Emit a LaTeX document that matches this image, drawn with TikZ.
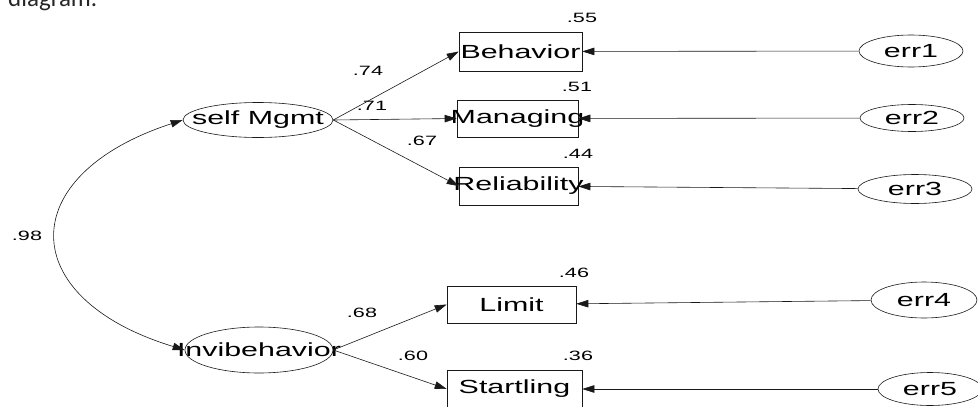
\documentclass[tikz,border=0pt]{standalone}
\usepackage{fontspec}
\setmainfont{Liberation Sans}[FakeStretch=1.6]
\newfontfamily\captfont{Carlito}
\usetikzlibrary{arrows.meta,shapes.geometric}
\definecolor{pLine}{gray}{0.1}
\definecolor{pCapt}{gray}{0.15}
\newcommand{\wide}[1]{\makebox[0pt][c]{#1}}
\tikzset{
    lat/.style={ellipse, draw=pLine, line width=0.6pt, inner sep=0pt, minimum width=150pt, minimum height=35pt, font=\fontsize{19}{21}\selectfont},
    obs/.style={rectangle, draw=pLine, line width=0.6pt, inner sep=0pt, minimum width=122pt, minimum height=38pt, font=\fontsize{19}{21}\selectfont},
    errv/.style={ellipse, draw=pLine, line width=0.6pt, inner sep=0pt, minimum width=104pt, minimum height=31pt, font=\fontsize{19}{21}\selectfont},
    coef/.style={inner sep=0pt, font=\fontsize{13.5}{15}\selectfont},
    regr/.style={draw=pLine, line width=0.6pt, -{Triangle[length=12pt,width=7.5pt]}},
    cov/.style={draw=pLine, line width=0.6pt, {Triangle[length=12pt,width=7.5pt]}-{Triangle[length=12pt,width=7.5pt]}}
}

\begin{document}
\begin{tikzpicture}[x=1pt,y=-1pt]
\useasboundingbox (0,0) rectangle (978,407);
\clip (0,0) rectangle (978,407);
\node[anchor=base west, inner sep=0pt, text=pCapt, font=\captfont\fontsize{25}{28}\selectfont] (capt) at (8,6) {diagram.};
% latent variables
\node[lat] (selfMgmt) at (258,120) {\wide{self Mgmt}};
\node[lat, minimum width=148pt, minimum height=46pt] (Invib) at (259,350) {\wide{Invibehavior}};
% observed variables
\node[obs, minimum width=123pt, minimum height=39pt] (Behavior) at (520.5,51.5) {\wide{Behavior}};
\node[obs, minimum width=121pt, minimum height=37pt] (Managing) at (517.5,118.5) {\wide{Managing}};
\node[obs, minimum width=119pt] (Reliability) at (518.5,186) {\wide{Reliability}};
\node[obs, minimum width=129pt, minimum height=37pt] (Limit) at (511.5,304.5) {\wide{Limit}};
\node[obs, minimum width=135pt] (Startling) at (514.5,389) {\wide{Startling}};
% error terms
\node[errv, minimum height=32pt] (err1) at (911,51) {\wide{err1}};
\node[errv, minimum height=27pt] (err2) at (912,118) {\wide{err2}};
\node[errv, minimum width=114pt, minimum height=29pt] (err3) at (915,189) {\wide{err3}};
\node[errv, minimum width=106pt, minimum height=36pt] (err4) at (924,300) {\wide{err4}};
\node[errv, minimum width=104pt, minimum height=33pt] (err5) at (930,389) {\wide{err5}};
% squared multiple correlations
\node[coef] (r1) at (582,18) {.55};
\node[coef] (r2) at (577,87) {.51};
\node[coef] (r3) at (578,154) {.44};
\node[coef] (r4) at (574,273) {.46};
\node[coef] (r5) at (578,356) {.36};
% loadings
\node[coef] (l1) at (368,71) {.74};
\node[coef] (l2) at (372,106) {.71};
\node[coef] (l3) at (422,141) {.67};
\node[coef] (l4) at (362,313) {.68};
\node[coef] (l5) at (413,356) {.60};
\node[coef] (rho) at (27,236) {.98};
% paths
\draw[regr] (selfMgmt.east) -- (Behavior.west);
\draw[regr] (selfMgmt.east) -- (Managing.west);
\draw[regr] (selfMgmt.east) -- (Reliability.west);
\draw[regr] (Invib.east) -- (Limit.west);
\draw[regr] (Invib.east) -- (Startling.west);
\draw[regr] (err1) -- (Behavior);
\draw[regr] (err2) -- (Managing);
\draw[regr] (err3) -- (Reliability);
\draw[regr] (err4) -- (Limit);
\draw[regr] (err5) -- (Startling);
\draw[cov] (selfMgmt.west) .. controls (14,175) and (14,298) .. (Invib.west);
\end{tikzpicture}
\end{document}
